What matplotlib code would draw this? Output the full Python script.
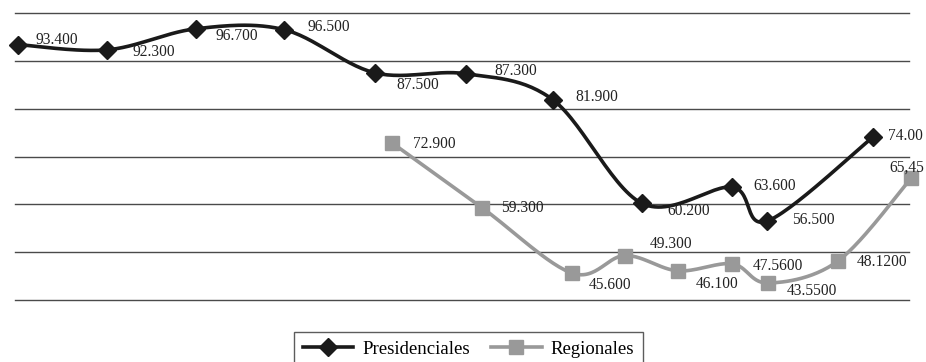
import numpy as np
import matplotlib
matplotlib.use("Agg")
import matplotlib.pyplot as plt
from matplotlib.lines import Line2D

# ---- data ----
pres_x = [0.00, 1.00, 1.99, 2.98, 3.99, 5.01, 5.98, 6.98, 7.99, 8.38, 9.56]
pres_y = [93.4, 92.3, 96.7, 96.5, 87.5, 87.3, 81.9, 60.2, 63.6, 56.5, 74.0]
pres_labels = ["93.400", "92.300", "96.700", "96.500", "87.500", "87.300",
               "81.900", "60.200", "63.600", "56.500", "74.00"]

reg_x = [4.18, 5.19, 6.20, 6.79, 7.38, 7.99, 8.39, 9.17, 9.99]
reg_y = [72.9, 59.3, 45.6, 49.3, 46.1, 47.56, 43.55, 48.12, 65.45]
reg_labels = ["72.900", "59.300", "45.600", "49.300", "46.100", "47.5600",
              "43.5500", "48.1200", "65,45"]

series_names = ["Presidenciales", "Regionales"]
y_ticks = [40, 50, 60, 70, 80, 90, 100]

# label offsets in pixels (dx to left edge of text, dy of text centre; screen y down)
pres_off = [(17, -5), (25, 2), (20, 7), (23, -3), (22, 12), (28, -3),
            (23, -3), (25, 8), (21, -1), (25, -1), (15, -1)]
reg_off = [(21, 1), (19, 0), (16, 12), (25, -12), (18, 13), (20, 2),
           (19, 8), (19, 1), (-22, -11)]

plt.rcParams['font.family'] = ['Liberation Serif', 'DejaVu Serif']


def smooth(xs, ys, n=30):
    P = np.column_stack([xs, ys]).astype(float)
    m = len(P)
    out = [P[0]]
    t = np.linspace(0, 1, n)[1:, None]
    for i in range(m - 1):
        p0 = P[i - 1] if i > 0 else P[i]
        p1 = P[i]
        p2 = P[i + 1]
        p3 = P[i + 2] if i + 2 < m else P[i + 1]
        c1 = p1 + (p2 - p0) / 6.0
        c2 = p2 - (p3 - p1) / 6.0
        seg = ((1 - t) ** 3) * p1 + 3 * ((1 - t) ** 2) * t * c1 + 3 * (1 - t) * t ** 2 * c2 + t ** 3 * p2
        out.extend(seg)
    out = np.array(out)
    return out[:, 0], out[:, 1]


fig = plt.figure(figsize=(9.26, 3.62), dpi=100)
W, H = 926, 362
ax = fig.add_axes([15 / W, 1 - 300 / H, (909 - 15) / W, (300 - 13) / H])
ax.set_xlim((15 - 18) / 89.4, (909 - 18) / 89.4)
ax.set_ylim(40, 100)
ax.set_yticks(y_ticks)
for yv in y_ticks:
    ax.axhline(yv, color='#4a4a4a', lw=1.0, zorder=1, clip_on=False)
for s in ax.spines.values():
    s.set_visible(False)
ax.set_xticks([])
ax.tick_params(left=False, labelleft=False)

black = '#1a1a1a'
gray = '#999999'

sx, sy = smooth(pres_x, pres_y)
ax.plot(sx, sy, color=black, lw=2.6, zorder=3, clip_on=False, solid_capstyle='round')
ax.plot(pres_x, pres_y, ls='none', marker='D', ms=9, color=black, mec=black,
        zorder=4, clip_on=False)

rx, ry = smooth(reg_x, reg_y)
ax.plot(rx, ry, color=gray, lw=2.6, zorder=2, clip_on=False, solid_capstyle='round')
ax.plot(reg_x, reg_y, ls='none', marker='s', ms=10, color=gray, mec=gray,
        zorder=4, clip_on=False)

for x, y, lab, (dx, dy) in zip(pres_x, pres_y, pres_labels, pres_off):
    ax.annotate(lab, (x, y), xytext=(dx, -dy), textcoords='offset pixels',
                ha='left', va='center', fontsize=11.2, color='#222222',
                annotation_clip=False, zorder=5)
for x, y, lab, (dx, dy) in zip(reg_x, reg_y, reg_labels, reg_off):
    ax.annotate(lab, (x, y), xytext=(dx, -dy), textcoords='offset pixels',
                ha='left', va='center', fontsize=11.2, color='#222222',
                annotation_clip=False, zorder=5)

handles = [Line2D([], [], color=black, lw=2.6, marker='D', ms=9),
           Line2D([], [], color=gray, lw=2.6, marker='s', ms=10)]
leg = fig.legend(handles, series_names, loc='upper center',
                 bbox_to_anchor=(468.5 / W, 1 - 332 / H), ncol=2,
                 fontsize=13.5, frameon=True, fancybox=False,
                 handlelength=2.7, handletextpad=0.5, columnspacing=1.1,
                 borderpad=0.45, borderaxespad=0)
leg.get_frame().set_edgecolor('#333333')
leg.get_frame().set_linewidth(1.0)

fig.savefig('out.png', dpi=100)
